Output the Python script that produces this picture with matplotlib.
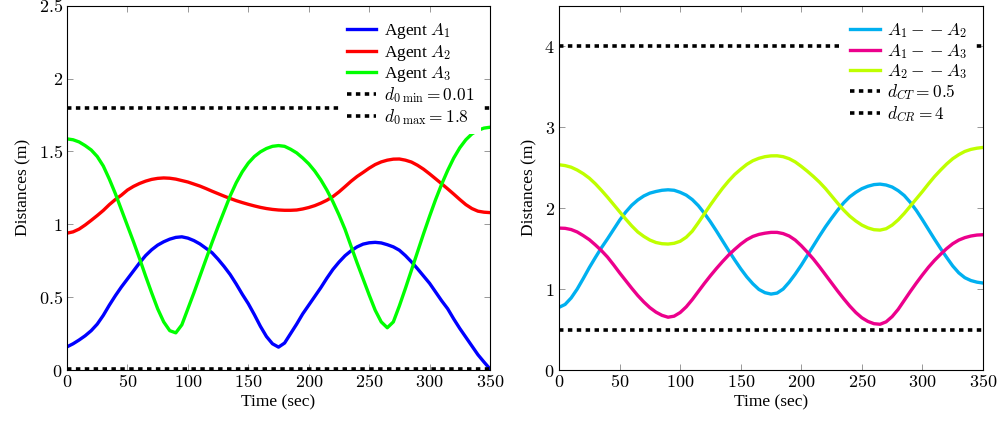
import numpy as np
import matplotlib
matplotlib.use('Agg')
import matplotlib.pyplot as plt
from matplotlib.ticker import FuncFormatter

plt.rcParams['font.family'] = 'serif'
plt.rcParams['font.serif'] = ['Liberation Serif', 'DejaVu Serif']
plt.rcParams['mathtext.fontset'] = 'cm'
plt.rcParams['font.size'] = 12.5
plt.rcParams['lines.scale_dashes'] = False

# time grid (sec), one sample every 5 s
time = np.arange(0, 351, 5)

# left panel: distance of each agent (m)
agent_a1 = [0.159, 0.18, 0.206, 0.235, 0.27, 0.315, 0.375, 0.445, 0.51, 0.57,
            0.625, 0.68, 0.735, 0.785, 0.825, 0.857, 0.88, 0.898, 0.91, 0.914,
            0.905, 0.888, 0.865, 0.835, 0.805, 0.76, 0.71, 0.655, 0.59, 0.52,
            0.455, 0.38, 0.30, 0.23, 0.18, 0.157, 0.185, 0.25, 0.315, 0.385,
            0.445, 0.505, 0.565, 0.63, 0.69, 0.74, 0.784, 0.818, 0.845, 0.864,
            0.873, 0.876, 0.872, 0.86, 0.845, 0.822, 0.785, 0.742, 0.695, 0.645,
            0.595, 0.535, 0.475, 0.42, 0.35, 0.285, 0.225, 0.165, 0.105, 0.055,
            0.007]
agent_a2 = [0.939, 0.948, 0.967, 0.995, 1.027, 1.06, 1.095, 1.135, 1.17, 1.20,
            1.235, 1.26, 1.28, 1.296, 1.308, 1.315, 1.318, 1.316, 1.31, 1.30,
            1.29, 1.276, 1.262, 1.245, 1.227, 1.21, 1.193, 1.177, 1.162, 1.149,
            1.137, 1.126, 1.116, 1.108, 1.102, 1.098, 1.096, 1.096, 1.098, 1.105,
            1.115, 1.128, 1.145, 1.165, 1.19, 1.222, 1.258, 1.295, 1.328, 1.356,
            1.385, 1.41, 1.428, 1.44, 1.447, 1.448, 1.44, 1.427, 1.405, 1.378,
            1.346, 1.312, 1.278, 1.243, 1.207, 1.17, 1.135, 1.108, 1.09, 1.083,
            1.08]
agent_a3 = [1.586, 1.58, 1.565, 1.54, 1.51, 1.465, 1.40, 1.31, 1.21, 1.10,
            0.99, 0.88, 0.765, 0.645, 0.53, 0.42, 0.33, 0.27, 0.255, 0.31,
            0.42, 0.53, 0.645, 0.76, 0.875, 0.985, 1.09, 1.195, 1.285, 1.36,
            1.42, 1.465, 1.497, 1.52, 1.535, 1.54, 1.535, 1.515, 1.49, 1.455,
            1.415, 1.365, 1.305, 1.235, 1.155, 1.065, 0.966, 0.85, 0.735, 0.625,
            0.515, 0.41, 0.33, 0.29, 0.33, 0.44, 0.56, 0.685, 0.81, 0.935,
            1.055, 1.17, 1.275, 1.37, 1.455, 1.525, 1.58, 1.62, 1.645, 1.66,
            1.666]
d0_min = 0.01
d0_max = 1.8

# right panel: inter-agent distances (m)
a1_a2 = [0.774, 0.81, 0.89, 1.00, 1.13, 1.265, 1.39, 1.51, 1.62, 1.735,
         1.85, 1.95, 2.035, 2.10, 2.15, 2.185, 2.205, 2.22, 2.226, 2.22,
         2.195, 2.16, 2.105, 2.03, 1.935, 1.83, 1.715, 1.595, 1.475, 1.36,
         1.25, 1.15, 1.065, 0.995, 0.955, 0.938, 0.95, 1.00, 1.085, 1.185,
         1.295, 1.415, 1.535, 1.655, 1.77, 1.875, 1.975, 2.065, 2.14, 2.195,
         2.24, 2.27, 2.29, 2.296, 2.285, 2.26, 2.215, 2.155, 2.07, 1.97,
         1.855, 1.735, 1.615, 1.50, 1.39, 1.285, 1.20, 1.14, 1.105, 1.085,
         1.074]
a1_a3 = [1.753, 1.75, 1.735, 1.705, 1.66, 1.61, 1.545, 1.475, 1.395, 1.30,
         1.20, 1.105, 1.01, 0.92, 0.84, 0.77, 0.715, 0.675, 0.652, 0.665,
         0.71, 0.78, 0.87, 0.97, 1.07, 1.165, 1.255, 1.34, 1.42, 1.49,
         1.555, 1.61, 1.65, 1.675, 1.69, 1.70, 1.70, 1.685, 1.655, 1.605,
         1.535, 1.455, 1.37, 1.275, 1.175, 1.075, 0.975, 0.88, 0.79, 0.71,
         0.645, 0.60, 0.572, 0.565, 0.595, 0.66, 0.75, 0.86, 0.97, 1.075,
         1.175, 1.27, 1.355, 1.43, 1.50, 1.56, 1.605, 1.635, 1.655, 1.667,
         1.671]
a2_a3 = [2.535, 2.525, 2.505, 2.47, 2.425, 2.37, 2.30, 2.22, 2.135, 2.045,
         1.955, 1.865, 1.78, 1.705, 1.65, 1.605, 1.575, 1.56, 1.556, 1.565,
         1.59, 1.64, 1.715, 1.82, 1.93, 2.04, 2.145, 2.245, 2.335, 2.415,
         2.48, 2.54, 2.585, 2.615, 2.635, 2.645, 2.646, 2.635, 2.61, 2.57,
         2.515, 2.455, 2.39, 2.32, 2.24, 2.15, 2.06, 1.975, 1.90, 1.84,
         1.79, 1.755, 1.733, 1.728, 1.745, 1.79, 1.855, 1.935, 2.025, 2.115,
         2.205, 2.30, 2.39, 2.47, 2.545, 2.61, 2.66, 2.70, 2.725, 2.74,
         2.749]
d_ct = 0.5
d_cr = 4

fig = plt.figure(figsize=(9.99, 4.25), dpi=100)
ax1 = fig.add_axes([0.0671, 0.1294, 0.4234, 0.8572])
ax2 = fig.add_axes([0.5596, 0.1294, 0.4244, 0.8572])

lw = 2.4
dots = dict(color='black', lw=2.6, linestyle=(0, (3.2, 3.2)))

ax1.plot(time, agent_a1, color='#0000ff', lw=lw, label=r'Agent $A_1$')
ax1.plot(time, agent_a2, color='#ff0000', lw=lw, label=r'Agent $A_2$')
ax1.plot(time, agent_a3, color='#00ff00', lw=lw, label=r'Agent $A_3$')
ax1.axhline(d0_min, label=r'$d_{0\;\min}=0.01$', **dots)
ax1.axhline(d0_max, label=r'$d_{0\;\max}=1.8$', **dots)
ax1.set_ylim(0, 2.5)
ax1.set_yticks([0, 0.5, 1, 1.5, 2, 2.5])

ax2.plot(time, a1_a2, color='#00b0f0', lw=lw, label=r'$A_1--A_2$')
ax2.plot(time, a1_a3, color='#ec008c', lw=lw, label=r'$A_1--A_3$')
ax2.plot(time, a2_a3, color='#bfff00', lw=lw, label=r'$A_2--A_3$')
ax2.axhline(d_ct, label=r'$d_{CT}=0.5$', **dots)
ax2.axhline(d_cr, label=r'$d_{CR}=4$', **dots)
ax2.set_ylim(0, 4.5)
ax2.set_yticks([0, 1, 2, 3, 4])

fmt = FuncFormatter(lambda v, p: f'${v:g}$')
for ax in (ax1, ax2):
    ax.set_xlim(0, 350)
    ax.set_xticks(range(0, 351, 50))
    ax.xaxis.set_major_formatter(fmt)
    ax.yaxis.set_major_formatter(fmt)
    ax.tick_params(direction='in', top=True, right=True, length=4.5, width=0.6,
                   color='#888888', labelsize=13, pad=3)
    for s in ax.spines.values():
        s.set_linewidth(0.8)
    ax.set_xlabel('Time (sec)', labelpad=2)
    ax.set_ylabel('Distances (m)', labelpad=5)
    ax.legend(loc='upper right', frameon=True, fancybox=False, edgecolor='none',
              facecolor='white', framealpha=1, handlelength=1.7,
              handletextpad=0.45, labelspacing=0.08, borderaxespad=0.5)

fig.savefig('out.png', dpi=100)
